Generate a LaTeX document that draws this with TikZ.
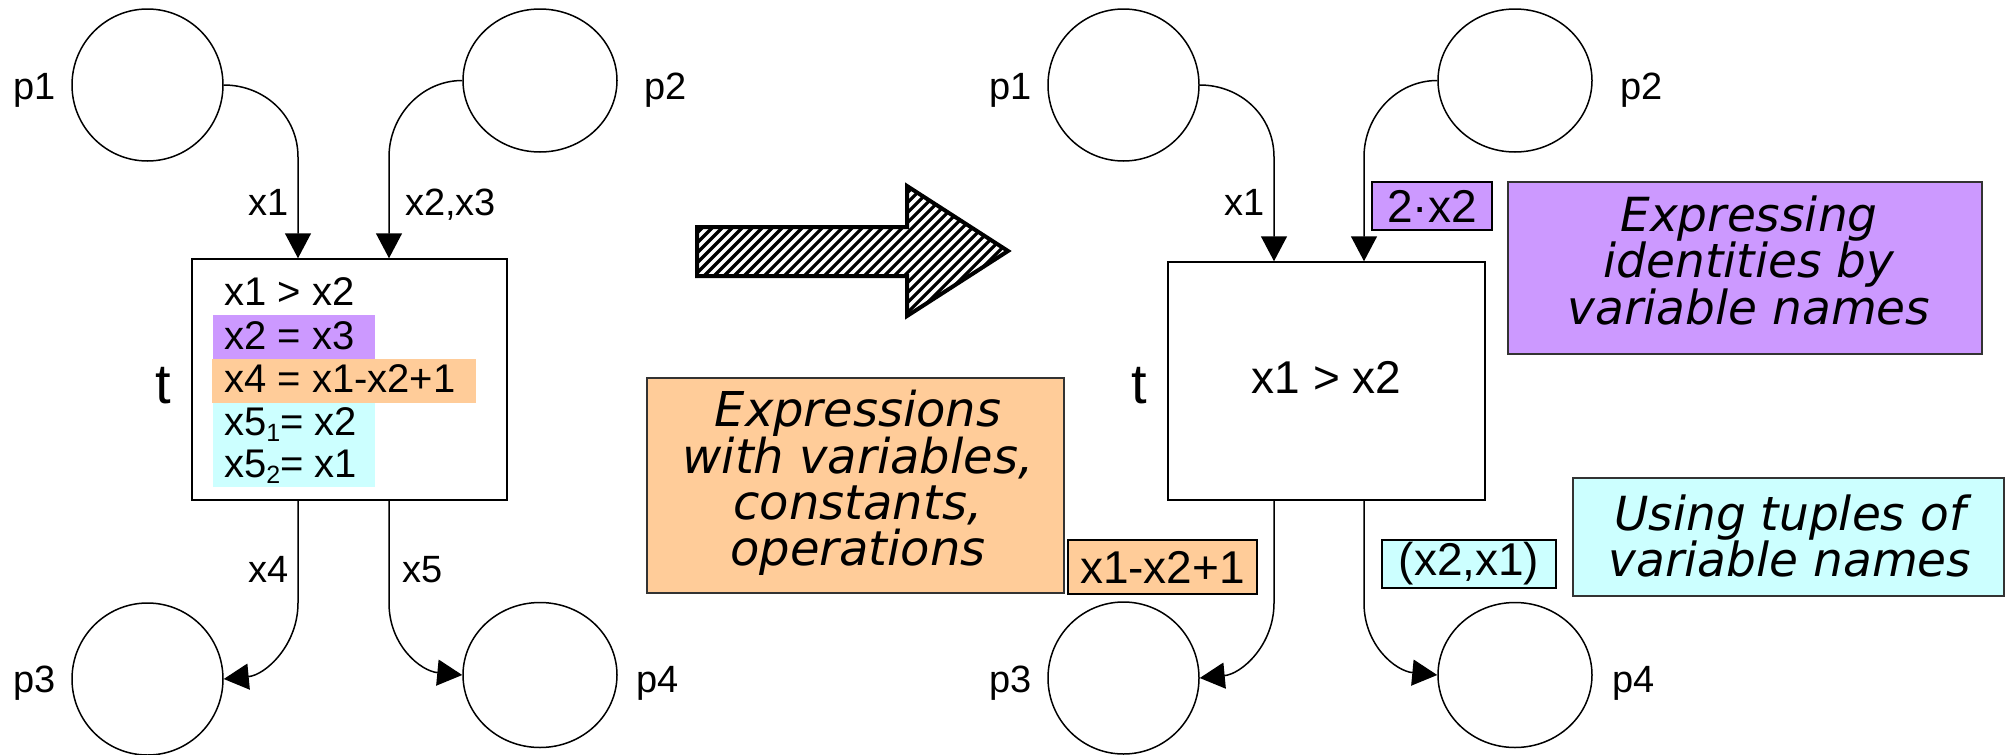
\documentclass[tikz,border=0pt]{standalone}
\usepackage{fontspec}
\setmainfont{Liberation Sans}
\newfontfamily\comicfont{DejaVu Sans}
\usetikzlibrary{arrows.meta,shapes.geometric}
\definecolor{purp}{HTML}{CC99FF}
\definecolor{orng}{HTML}{FFCC99}
\definecolor{cyn}{HTML}{CCFFFF}
\newcommand\mysub[1]{\raisebox{-6pt}{\fontsize{25pt}{25pt}\selectfont #1}}
\begin{document}
\begin{tikzpicture}[x=1pt,y=-1pt,
  place/.style={ellipse, draw, line width=1.5pt, inner sep=0pt},
  trans/.style={rectangle, draw, line width=1.5pt, inner sep=0pt},
  flow/.style={line width=1.5pt, -{Triangle[length=25pt,width=26pt]}},
  lab/.style={inner sep=0pt, font=\fontsize{38pt}{44pt}\selectfont},
  tlab/.style={inner sep=0pt, anchor=base west, font=\fontsize{56pt}{60pt}\selectfont},
  guard/.style={inner sep=0pt, anchor=base west, font=\fontsize{40pt}{44pt}\selectfont},
  tag/.style={draw, line width=1.8pt, inner sep=0pt, font=\fontsize{46pt}{50pt}\selectfont},
  note/.style={draw=black!80, line width=1.5pt, inner sep=0pt},
  notetext/.style={inner sep=0pt, align=center,
    font=\comicfont\itshape\fontsize{47pt}{46.5pt}\selectfont}]
\useasboundingbox (0,0) rectangle (2011,755);

% ---------------- left net ----------------
\node[place, minimum width=151pt, minimum height=152pt] (p1) at (147.5,85) {};
\node[place, minimum width=154pt, minimum height=143pt] (p2) at (540,80.5) {};
\node[place, minimum width=151pt, minimum height=152pt] (p3) at (147.5,679) {};
\node[place, minimum width=154pt, minimum height=145pt] (p4) at (540,675) {};
\node[trans, minimum width=315pt, minimum height=241pt] (t1) at (349.5,379.5) {};

\node[lab, anchor=base west] (lp1) at (13,99) {p1};
\node[lab, anchor=base west] (lp2) at (644,99) {p2};
\node[lab, anchor=base west] (lp3) at (13,692) {p3};
\node[lab, anchor=base west] (lp4) at (636,692) {p4};
\node[tlab] (lt1) at (155,403) {t};

\fill[purp] (213,315) rectangle (375,359);
\fill[orng] (212,359) rectangle (476,403);
\fill[cyn] (213,403) rectangle (375,487);
\node[guard] (g1) at (224,305) {x1 > x2};
\node[guard] (g2) at (224,349) {x2 = x3};
\node[guard] (g3) at (224,392) {x4 = x1-x2+1};
\node[guard] (g4) at (224,435) {x5\mysub{1}= x2};
\node[guard] (g5) at (224,477) {x5\mysub{2}= x1};

\coordinate (a1) at (298,157);
\coordinate (a2) at (389,157);
\coordinate (a4) at (298,603);
\coordinate (a5) at (389,603);
\draw[flow] (p1.east) .. controls +(41,0) and +(0,-41) .. (a1) -- (t1.north -| a1);
\draw[flow] (p2.west) .. controls +(-41,0) and +(0,-41) .. (a2) -- (t1.north -| a2);
\draw[flow] (t1.south -| a4) -- (a4) .. controls +(0,42) and +(42,-4) .. (p3.east);
\draw[flow] (t1.south -| a5) -- (a5) .. controls +(0,42) and +(-42,-4) .. (p4.west);

\node[lab, anchor=base east] (l1) at (289,215) {x1};
\node[lab, anchor=base west] (l2) at (405,215) {x2,x3};
\node[lab, anchor=base east] (l4) at (289,582) {x4};
\node[lab, anchor=base west] (l5) at (402,582) {x5};

% ---------------- hatched arrow ----------------
\begin{scope}
  \clip (697,227) -- (907,227) -- (907,186) -- (1008,251) -- (907,316) -- (907,276) -- (697,276) -- cycle;
  \foreach \k in {880,890,...,1330}
    \draw[line width=3.2pt] ({\k-170},170) -- ({\k-330},330);
\end{scope}
\draw[line width=4pt, line join=miter]
  (697,227) -- (907,227) -- (907,186) -- (1008,251) -- (907,316) -- (907,276) -- (697,276) -- cycle;

% ---------------- right net ----------------
\node[place, minimum width=151pt, minimum height=152pt] (q1) at (1123.5,85) {};
\node[place, minimum width=154pt, minimum height=143pt] (q2) at (1515,80.5) {};
\node[place, minimum width=151pt, minimum height=152pt] (q3) at (1123.5,678) {};
\node[place, minimum width=154pt, minimum height=145pt] (q4) at (1515,675) {};
\node[trans, minimum width=317pt, minimum height=238pt] (t2) at (1326.5,381) {};
\node[inner sep=0pt, anchor=base, font=\fontsize{46pt}{50pt}\selectfont] (g6) at (1326.5,393) {x1 > x2};

\node[lab, anchor=base west] (lq1) at (989,99) {p1};
\node[lab, anchor=base west] (lq2) at (1620,99) {p2};
\node[lab, anchor=base west] (lq3) at (989,692) {p3};
\node[lab, anchor=base west] (lq4) at (1612,692) {p4};
\node[tlab] (lt2) at (1131,403) {t};

\coordinate (b1) at (1274,157);
\coordinate (b2) at (1364,157);
\coordinate (b4) at (1274,603);
\coordinate (b5) at (1364,603);
\draw[flow] (q1.east) .. controls +(41,0) and +(0,-41) .. (b1) -- (t2.north -| b1);
\draw[flow] (q2.west) .. controls +(-41,0) and +(0,-41) .. (b2) -- (t2.north -| b2);
\draw[flow] (t2.south -| b4) -- (b4) .. controls +(0,42) and +(42,-4) .. (q3.east);
\draw[flow] (t2.south -| b5) -- (b5) .. controls +(0,42) and +(-42,-4) .. (q4.west);

\node[lab, anchor=base east] (m1) at (1265,215) {x1};
\node[tag, fill=purp, minimum width=120pt, minimum height=48pt] (tg1) at (1432,206) {2·x2};
\node[tag, fill=orng, minimum width=189pt, minimum height=54pt] (tg2) at (1162.5,567) {x1-x2+1};
\node[tag, fill=cyn, minimum width=174pt, minimum height=48pt] (tg3) at (1469,564) {(x2,x1)};

% ---------------- notes ----------------
\node[note, fill=orng, minimum width=417pt, minimum height=215pt] (n1) at (855.5,485.5) {};
\node[notetext, font=\comicfont\itshape\fontsize{48pt}{46pt}\selectfont] (n1t) at (858,483)
  {Expressions\\with variables,\\constants,\\operations};
\node[note, fill=purp, minimum width=474pt, minimum height=172pt] (n2) at (1745,268) {};
\node[notetext] (n2t) at (1749,260) {Expressing\\identities by\\variable names};
\node[note, fill=cyn, minimum width=431pt, minimum height=118pt] (n3) at (1788.5,537) {};
\node[notetext] (n3t) at (1790,536) {Using tuples of\\variable names};
\end{tikzpicture}
\end{document}
